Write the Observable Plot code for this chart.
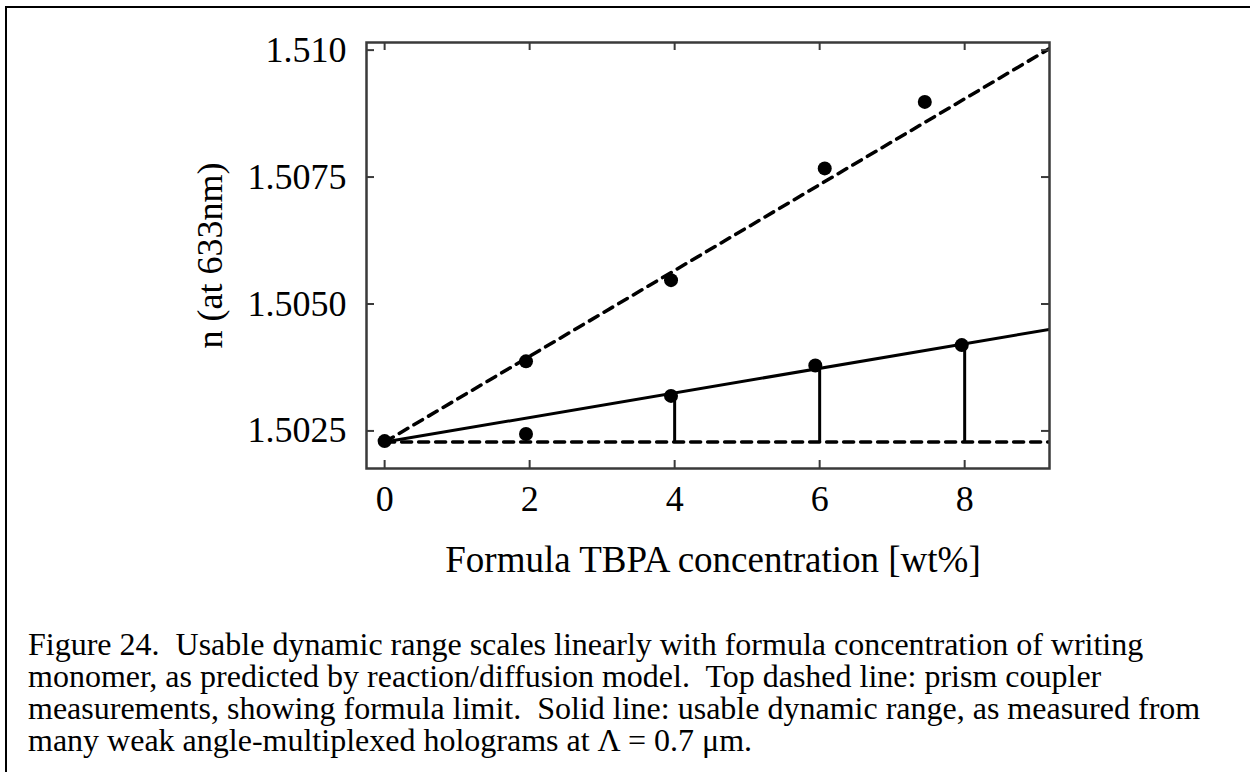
<!DOCTYPE html>
<html>
<head>
<meta charset="utf-8">
<script src="https://cdn.jsdelivr.net/npm/d3@7"></script>
<script src="https://cdn.jsdelivr.net/npm/@observablehq/plot@0.6"></script>
<style>
  html, body { margin: 0; padding: 0; background: #fff; }
  body { position: relative; width: 1250px; height: 772px; overflow: hidden; }
  #chart { position: absolute; left: 0; top: 0; z-index: 1; }
  #caption { position: absolute; left: 28px; top: 628px; width: 1215px; z-index: 1;
             font-family: "Liberation Serif", "Times New Roman", serif; font-size: 32px;
             line-height: 32px; white-space: pre; color: #000; }
  #border { position: absolute; left: 5px; top: 6px; width: 1300px; height: 800px; z-index: 2;
            border-left: 2px solid #000; border-top: 2px solid #000; pointer-events: none; }
</style>
</head>
<body>
<div id="chart"></div>
<div id="caption"></div>
<div id="border"></div>
<script>
// ---- data ----
const xTicks = [0, 2, 4, 6, 8];
const yTicks = [1.5025, 1.5050, 1.5075, 1.5100];
const yTickLabels = ["1.5025", "1.5050", "1.5075", "1.510"];
const xDomain = [-0.25, 9.17];
const yDomain = [1.50176, 1.51015];

// prism coupler measurements (formula limit)
const prismConc = [0, 1.95, 3.95, 6.07, 7.45];
const prismN = [1.50230, 1.50387, 1.50547, 1.50767, 1.50898];
// usable dynamic range (holograms)
const holoConc = [1.95, 3.95, 5.94, 7.96];
const holoN = [1.50244, 1.50319, 1.50379, 1.50419];

// fitted lines (endpoints)
const fitConc = [0, 9.17];
const fitPrismN = [1.50228, 1.51003];
const fitHoloN = [1.50228, 1.50450];
const baseN = [1.50228, 1.50228];

// drop lines from solid fit down to baseline
const dropConc = [4, 6, 8];
const dropTopN = [1.50325, 1.50373, 1.50420];

const xTitle = "Formula TBPA concentration [wt%]";
const yTitle = "n (at 633nm)";
const captionLines = [
  "Figure 24.  Usable dynamic range scales linearly with formula concentration of writing",
  "monomer, as predicted by reaction/diffusion model.  Top dashed line: prism coupler",
  "measurements, showing formula limit.  Solid line: usable dynamic range, as measured from",
  "many weak angle-multiplexed holograms at \u039B = 0.7 \u03BCm."
];

// ---- build tables ----
const prism = prismConc.map((x, i) => ({x, y: prismN[i]}));
const holo = holoConc.map((x, i) => ({x, y: holoN[i]}));
const fitPrism = fitConc.map((x, i) => ({x, y: fitPrismN[i]}));
const fitHolo = fitConc.map((x, i) => ({x, y: fitHoloN[i]}));
const base = fitConc.map((x, i) => ({x, y: baseN[i]}));
const drops = dropConc.map((x, i) => ({x, y1: baseN[0], y2: dropTopN[i]}));

const W = 1250, H = 600;
const mL = 366, mR = 201, mT = 42, mB = 132;
const plotW = W - mL - mR, plotH = H - mT - mB;
const axisColor = "#3a3a3a";
const dash = "10,7";
const serif = "'Liberation Serif', 'Times New Roman', serif";

const chart = Plot.plot({
  width: W, height: H,
  marginLeft: mL, marginRight: mR, marginTop: mT, marginBottom: mB,
  x: {domain: xDomain, axis: null},
  y: {domain: yDomain, axis: null},
  style: {fontFamily: serif, background: "white", color: "#000"},
  marks: [
    // fitted lines
    Plot.line(base, {x: "x", y: "y", stroke: "#000", strokeWidth: 3.5, strokeDasharray: dash, clip: true}),
    Plot.line(fitPrism, {x: "x", y: "y", stroke: "#000", strokeWidth: 3.5, strokeDasharray: dash, clip: true}),
    Plot.line(fitHolo, {x: "x", y: "y", stroke: "#000", strokeWidth: 3, clip: true}),
    Plot.ruleX(drops, {x: "x", y1: "y1", y2: "y2", stroke: "#000", strokeWidth: 3}),
    // measurements
    Plot.dot(prism, {x: "x", y: "y", r: 7, fill: "#000", stroke: "none"}),
    Plot.dot(holo, {x: "x", y: "y", r: 7, fill: "#000", stroke: "none"}),
    // frame and inward ticks (mirrored)
    Plot.frame({stroke: axisColor, strokeWidth: 2.5}),
    Plot.tickX(xTicks, {x: d => d, insetTop: plotH - 8, stroke: axisColor, strokeWidth: 2}),
    Plot.tickX(xTicks, {x: d => d, insetBottom: plotH - 8, stroke: axisColor, strokeWidth: 2}),
    Plot.tickY(yTicks, {y: d => d, insetRight: plotW - 8, stroke: axisColor, strokeWidth: 2}),
    Plot.tickY(yTicks, {y: d => d, insetLeft: plotW - 8, stroke: axisColor, strokeWidth: 2}),
    // tick labels
    Plot.axisX(xTicks, {anchor: "bottom", tickSize: 0, tickPadding: 17, fontSize: 36, fontFamily: serif,
                        label: null, tickFormat: d => String(d)}),
    Plot.axisY(yTicks, {anchor: "left", tickSize: 0, tickPadding: 20, fontSize: 36, fontFamily: serif,
                        tickFormat: d => yTickLabels[yTicks.indexOf(d)],
                        label: yTitle, labelAnchor: "center", labelArrow: "none", labelOffset: 170}),
    // x axis title
    Plot.text([xTitle], {frameAnchor: "bottom", dy: 92, dx: 5, fontSize: 37, fontFamily: serif,
                         lineAnchor: "middle", fill: "#000"})
  ]
});
document.getElementById("chart").appendChild(chart);
document.getElementById("caption").textContent = captionLines.join("\n");
</script>
</body>
</html>
